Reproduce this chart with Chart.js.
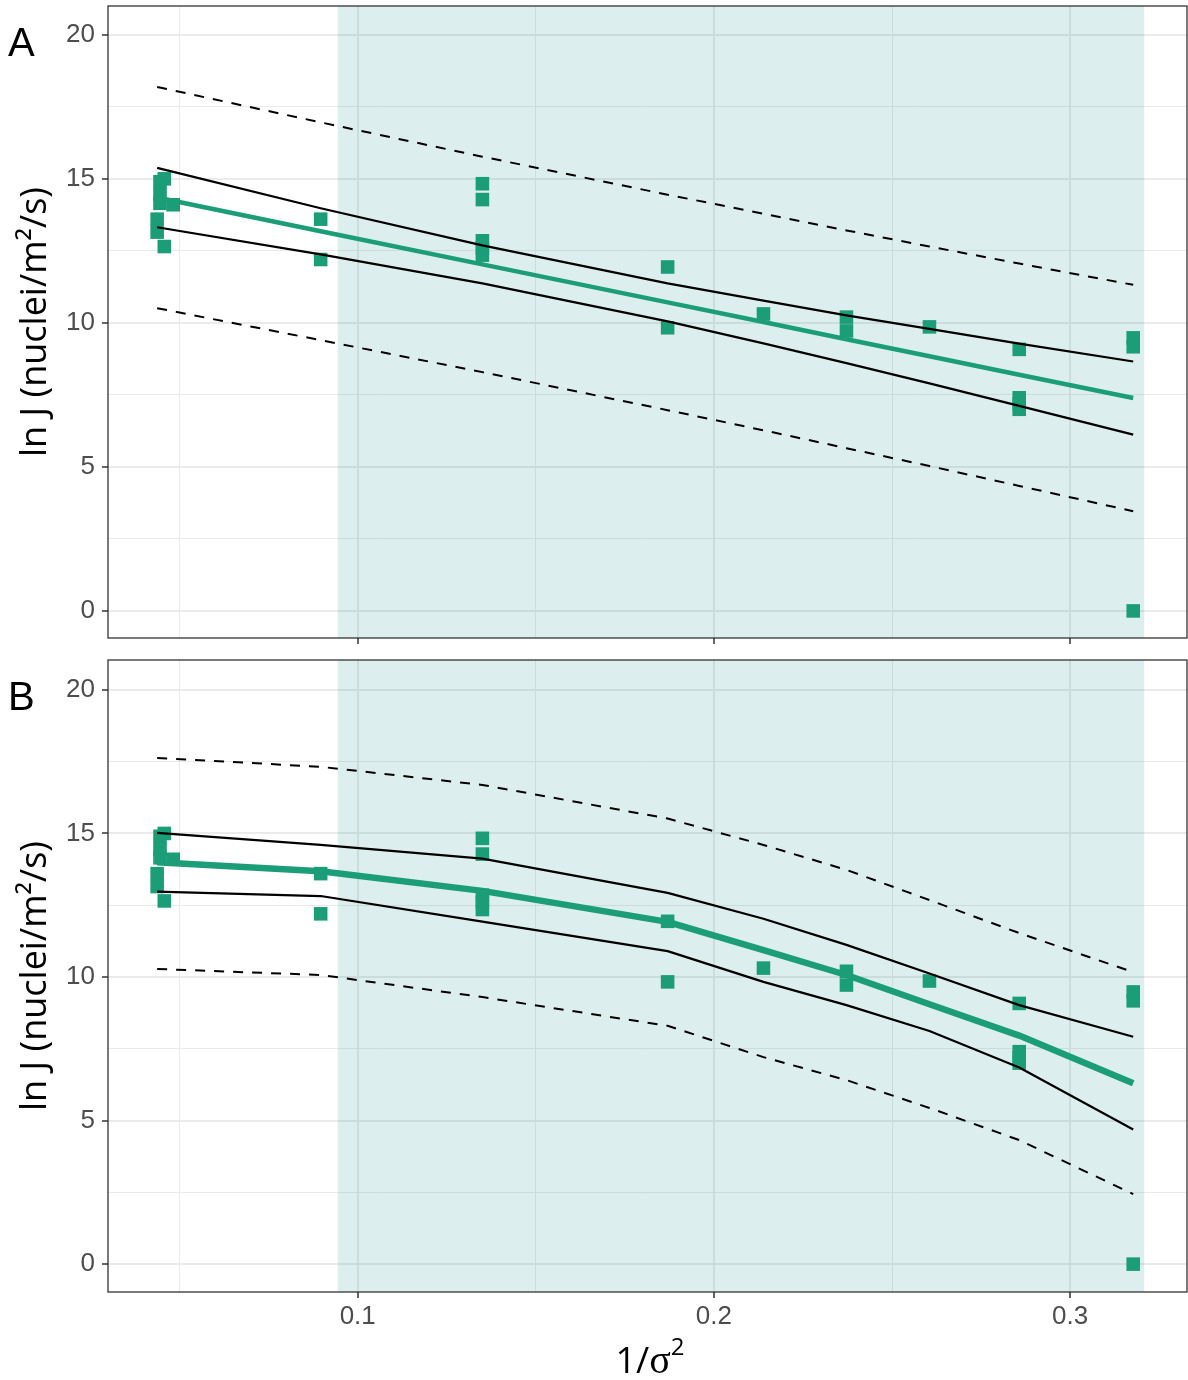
<!DOCTYPE html>
<html>
<head>
<meta charset="utf-8">
<script src="https://cdn.jsdelivr.net/npm/chart.js@4.4.1/dist/chart.umd.min.js"></script>
<style>
  html, body { margin: 0; padding: 0; background: #ffffff; }
  body { width: 1188px; height: 1380px; position: relative; overflow: hidden; }
  .wrap { position: absolute; left: 0; }
  .panel-label { position: absolute; font-family: "Liberation Sans", Arial, sans-serif; font-size: 40px; color: #000; line-height: 1; }
  .xtitle { position: absolute; top: 1334px; left: 0; width: 1300px; text-align: center; font-family: "Open Sans", sans-serif; font-size: 36px; color: #000; line-height: 1; }
  .xtitle .sig { font-family: "Liberation Serif", "DejaVu Serif", serif; font-size: 40px; }
  .xtitle sup { font-size: 24px; vertical-align: 18px; }
</style>
</head>
<body>
<div class="wrap" style="top:0;width:1188px;height:650px;"><canvas id="chartA" width="1188" height="650"></canvas></div>
<div class="wrap" style="top:650px;width:1188px;height:730px;"><canvas id="chartB" width="1188" height="730"></canvas></div>
<div class="panel-label" style="left:8px;top:22px;">A</div>
<div class="panel-label" style="left:8px;top:676px;">B</div>
<div class="xtitle">1/<span class="sig">σ</span><sup>2</sup></div>
<script>
// ---------------- data ----------------
const pointsX = [0.0437, 0.0437, 0.0445, 0.0445, 0.0445, 0.0457, 0.0457, 0.0482,
                 0.0896, 0.0896,
                 0.135, 0.135, 0.135, 0.135, 0.135,
                 0.187, 0.187,
                 0.2139,
                 0.2372, 0.2372,
                 0.2605,
                 0.2857, 0.2857, 0.2857, 0.2857,
                 0.3177, 0.3177, 0.3177];
const pointsY = [13.6, 13.15, 14.9, 14.45, 14.15, 15.0, 12.65, 14.1,
                 13.6, 12.2,
                 14.83, 14.28, 12.85, 12.6, 12.35,
                 11.94, 9.83,
                 10.31,
                 10.2, 9.72,
                 9.86,
                 9.08, 7.4, 7.2, 7.0,
                 9.48, 9.17, 0.0];

const curveX = [0.0437, 0.0896, 0.135, 0.187, 0.2139, 0.2372, 0.2605, 0.2857, 0.3177];

// Panel A (linear fit)
const fitA       = [14.35, 13.18, 12.03, 10.71, 10.03, 9.43, 8.84, 8.20, 7.39];
const confUpperA = [15.38, 13.98, 12.69, 11.37, 10.77, 10.26, 9.79, 9.28, 8.66];
const confLowerA = [13.32, 12.38, 11.37, 10.05, 9.29, 8.60, 7.90, 7.12, 6.12];
const predUpperA = [18.19, 16.96, 15.77, 14.45, 13.79, 13.21, 12.65, 12.06, 11.32];
const predLowerA = [10.51, 9.40, 8.29, 6.97, 6.27, 5.65, 5.03, 4.34, 3.46];

// Panel B (curved fit)
const fitB       = [14.0, 13.68, 13.0, 11.92, 10.94, 10.07, 9.05, 7.96, 6.30];
const confUpperB = [15.02, 14.6, 14.12, 12.93, 12.03, 11.12, 10.12, 9.02, 7.92];
const confLowerB = [12.97, 12.82, 11.93, 10.9, 9.83, 9.02, 8.12, 6.85, 4.69];
const predUpperB = [17.63, 17.32, 16.69, 15.52, 14.6, 13.73, 12.68, 11.53, 10.17];
const predLowerB = [10.28, 10.07, 9.3, 8.3, 7.21, 6.41, 5.44, 4.32, 2.44];

const shadeRange = [0.0944, 0.3208];

const xTicks = [0.05, 0.1, 0.15, 0.2, 0.25, 0.3];
const xTickLabels = ['', '0.1', '', '0.2', '', '0.3'];
const yTicks = [0, 2.5, 5, 7.5, 10, 12.5, 15, 17.5, 20];
const yTickLabels = ['0', '', '5', '', '10', '', '15', '', '20'];

const yTitle = 'ln J (nuclei/m²/s)';

// ---------------- styling ----------------
const GREEN = '#1b9e77';
const tickFont = { family: '"Liberation Sans", Arial, sans-serif', size: 26 };

function pts(xs, ys) { return xs.map((x, i) => ({ x: x, y: ys[i] })); }

const shadePlugin = {
  id: 'shade',
  beforeDatasetsDraw(chart) {
    const { ctx, chartArea, scales } = chart;
    const x0 = scales.x.getPixelForValue(shadeRange[0]);
    const x1 = scales.x.getPixelForValue(shadeRange[1]);
    ctx.save();
    ctx.fillStyle = 'rgba(0,130,130,0.133)';
    ctx.fillRect(x0, chartArea.top, x1 - x0, chartArea.bottom - chartArea.top);
    ctx.restore();
  },
  afterDatasetsDraw(chart) {
    const { ctx, chartArea } = chart;
    ctx.save();
    ctx.strokeStyle = '#333333';
    ctx.lineWidth = 1.3;
    ctx.strokeRect(chartArea.left, chartArea.top, chartArea.right - chartArea.left, chartArea.bottom - chartArea.top);
    ctx.restore();
  }
};

function makeChart(id, cfg) {
  const datasets = [
    { label: 'prediction upper', data: pts(curveX, cfg.predU), showLine: true, borderColor: '#000', borderWidth: 2, borderDash: [10, 9], pointRadius: 0, order: 1 },
    { label: 'prediction lower', data: pts(curveX, cfg.predL), showLine: true, borderColor: '#000', borderWidth: 2, borderDash: [10, 9], pointRadius: 0, order: 1 },
    { label: 'confidence upper', data: pts(curveX, cfg.confU), showLine: true, borderColor: '#000', borderWidth: 2.2, pointRadius: 0, order: 1 },
    { label: 'confidence lower', data: pts(curveX, cfg.confL), showLine: true, borderColor: '#000', borderWidth: 2.2, pointRadius: 0, order: 1 },
    { label: 'fit', data: pts(curveX, cfg.fit), showLine: true, borderColor: GREEN, borderWidth: cfg.fitWidth, pointRadius: 0, order: 2 },
    { label: 'data', data: pts(pointsX, pointsY), showLine: false, pointStyle: 'rect', pointRadius: 9.6, pointHoverRadius: 9.6, backgroundColor: GREEN, borderWidth: 0, order: 10 }
  ];
  return new Chart(document.getElementById(id), {
    type: 'scatter',
    data: { datasets: datasets },
    plugins: [shadePlugin],
    options: {
      responsive: false,
      animation: false,
      events: [],
      layout: { padding: cfg.padding, autoPadding: false },
      elements: { line: { tension: 0, borderCapStyle: 'butt', borderJoinStyle: 'round' } },
      plugins: { legend: { display: false }, tooltip: { enabled: false } },
      scales: {
        x: {
          type: 'linear',
          min: 0.0299, max: 0.3328,
          afterBuildTicks(s) { s.ticks = xTicks.map(v => ({ value: v })); },
          afterFit(s) { s.height = cfg.xHeight; s.paddingLeft = 0; s.paddingRight = 0; },
          border: { display: false },
          grid: {
            color: '#ebebeb',
            lineWidth: (c) => (xTickLabels[c.index] ? 2 : 1),
            tickColor: (c) => (xTickLabels[c.index] ? '#333333' : 'rgba(0,0,0,0)'),
            tickLength: 6,
            tickWidth: 1.5
          },
          ticks: {
            display: cfg.showXLabels,
            autoSkip: false,
            maxRotation: 0,
            padding: 3,
            color: '#4d4d4d',
            font: tickFont,
            callback: (v, i) => xTickLabels[i]
          }
        },
        y: {
          type: 'linear',
          min: cfg.yMin, max: cfg.yMax,
          afterBuildTicks(s) { s.ticks = yTicks.map(v => ({ value: v })); },
          afterFit(s) { s.width = 108; s.paddingTop = 0; s.paddingBottom = 0; },
          border: { display: false },
          grid: {
            color: '#ebebeb',
            lineWidth: (c) => (yTickLabels[c.index] ? 2 : 1),
            tickColor: (c) => (yTickLabels[c.index] ? '#333333' : 'rgba(0,0,0,0)'),
            tickLength: 6,
            tickWidth: 1.5
          },
          ticks: {
            autoSkip: false,
            padding: 7,
            color: '#4d4d4d',
            font: tickFont,
            callback: (v, i) => yTickLabels[i]
          },
          title: {
            display: true,
            text: yTitle,
            color: '#000',
            font: { family: '"Open Sans", sans-serif', size: 36 },
            padding: { top: 14, bottom: 0 }
          }
        }
      }
    }
  });
}

makeChart('chartA', {
  fit: fitA, confU: confUpperA, confL: confLowerA, predU: predUpperA, predL: predLowerA,
  fitWidth: 4.5, padding: { top: 6, right: 1, bottom: 0, left: 0 }, xHeight: 12, showXLabels: false,
  yMin: -0.94, yMax: 21.0
});
makeChart('chartB', {
  fit: fitB, confU: confUpperB, confL: confLowerB, predU: predUpperB, predL: predLowerB,
  fitWidth: 6.5, padding: { top: 10, right: 1, bottom: 0, left: 0 }, xHeight: 88, showXLabels: true,
  yMin: -0.97, yMax: 21.04
});
</script>
</body>
</html>
